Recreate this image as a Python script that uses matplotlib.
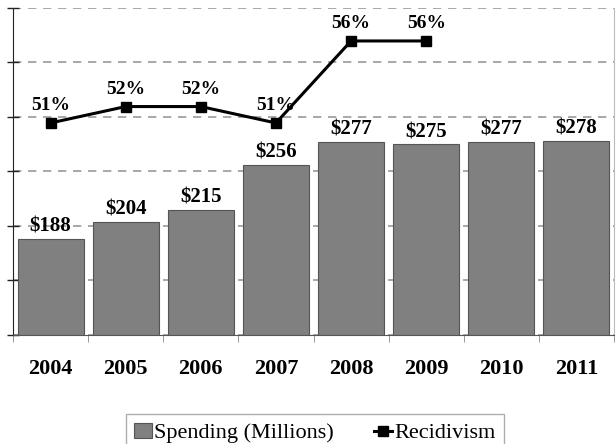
import matplotlib
matplotlib.use("Agg")
import matplotlib.pyplot as plt
import numpy as np

years = ["2004", "2005", "2006", "2007", "2008", "2009", "2010", "2011"]
spending = [188, 204, 215, 256, 277, 275, 277, 278]
spending_labels = ["$188", "$204", "$215", "$256", "$277", "$275", "$277", "$278"]
recid_years = ["2004", "2005", "2006", "2007", "2008", "2009"]
recidivism = [0.51, 0.52, 0.52, 0.51, 0.56, 0.56]
recid_labels = ["51%", "52%", "52%", "51%", "56%", "56%"]

plt.rcParams['font.family'] = ['Liberation Serif', 'DejaVu Serif']

fig = plt.figure(figsize=(6.16, 4.44), dpi=100)
ax = fig.add_axes([13/616, 1-335/444, (614-13)/616, (335-8)/444])

x = np.arange(len(years))
bars = ax.bar(x, spending, width=0.88, color='#808080', edgecolor='#555555',
              linewidth=0.8, zorder=2, label='Spending (Millions)')
ax.set_ylim(100, 400)
ax.set_xlim(-0.5, len(years) - 0.5)
ax.set_yticks(np.arange(100, 401, 50))
ax.yaxis.grid(True, linestyle=(0, (5, 4)), color='#999999', linewidth=1.2, zorder=0)
ax.set_axisbelow(True)
ax.tick_params(axis='y', direction='inout', length=9, width=1, labelleft=False, color='#222222')
ax.set_xticks(x)
ax.set_xticklabels(years, fontsize=16, fontweight='bold')
ax.tick_params(axis='x', which='major', length=0, pad=17)
ax.set_xticks(np.arange(-0.5, len(years), 1), minor=True)
ax.tick_params(axis='x', which='minor', direction='out', length=5, color='#888888')
ax.spines['top'].set_visible(False)
ax.spines['right'].set_color('#bbbbbb')
ax.spines['left'].set_color('#222222')
ax.spines['bottom'].set_color('#555555')

for xi, v, lab in zip(x, spending, spending_labels):
    ax.annotate(lab, (xi, v), xytext=(0, 1.5), textcoords='offset points',
                ha='center', va='bottom', fontsize=15, fontweight='bold', zorder=4)

ax2 = ax.twinx()
ax2.set_ylim(0.3807, 0.5801)
ax2.set_yticks([])
for s in ax2.spines.values():
    s.set_visible(False)
xr = np.array([years.index(y) for y in recid_years])
ax2.plot(xr, recidivism, color='black', linewidth=2.2, marker='s', markersize=7.5,
         label='Recidivism', zorder=5)
for xi, v, lab in zip(xr, recidivism, recid_labels):
    ax2.annotate(lab, (xi, v), xytext=(0, 6.5), textcoords='offset points',
                 ha='center', va='bottom', fontsize=14, fontweight='bold')

h1, l1 = ax.get_legend_handles_labels()
h2, l2 = ax2.get_legend_handles_labels()
leg = fig.legend(h1 + h2, l1 + l2, loc='upper center', bbox_to_anchor=(315/616, 1-414/444),
                 ncol=2, fontsize=16, frameon=True, fancybox=False, edgecolor='#999999',
                 handlelength=0.8, handletextpad=0.1, columnspacing=1.8, borderpad=0.4,
                 borderaxespad=0)
leg.get_frame().set_linewidth(1.0)

fig.savefig("out.png", dpi=100)
